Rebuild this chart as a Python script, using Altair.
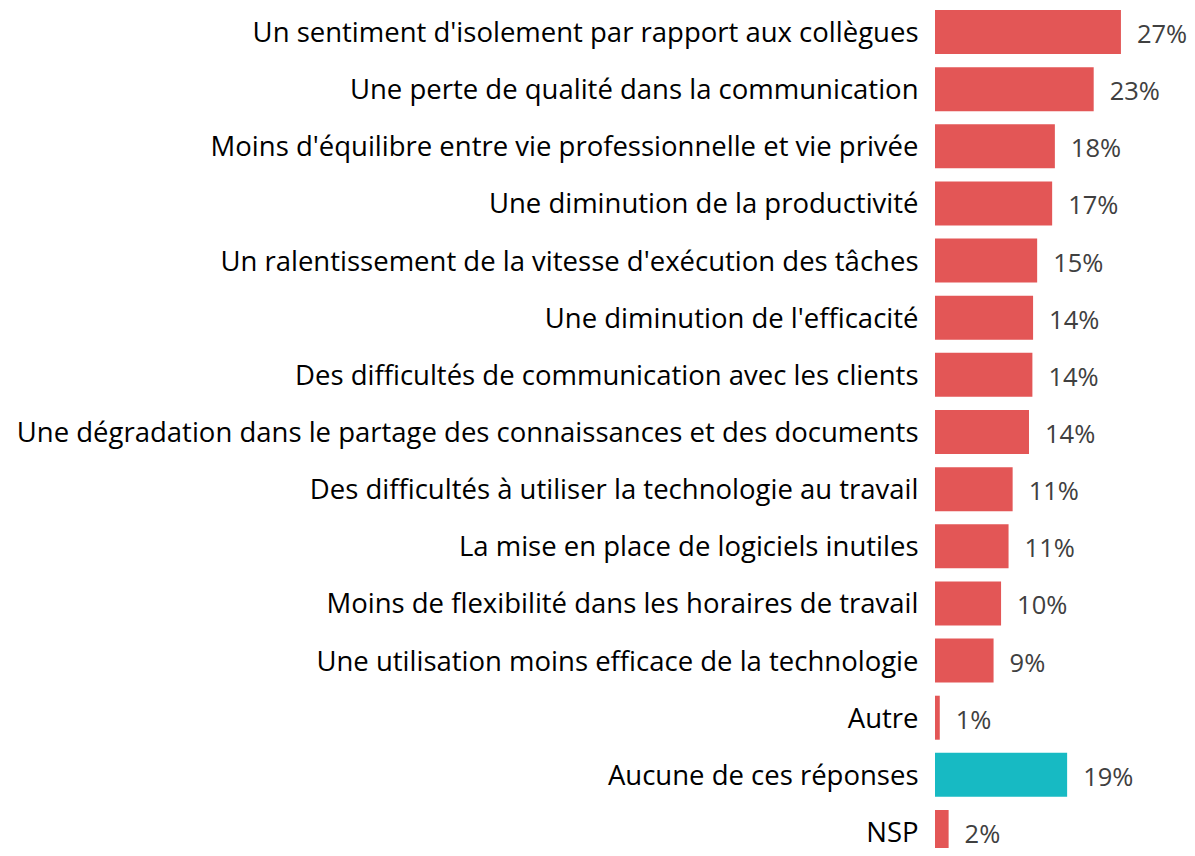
import altair as alt
import pandas as pd

categories = [
    "Un sentiment d'isolement par rapport aux collègues",
    "Une perte de qualité dans la communication",
    "Moins d'équilibre entre vie professionnelle et vie privée",
    "Une diminution de la productivité",
    "Un ralentissement de la vitesse d'exécution des tâches",
    "Une diminution de l'efficacité",
    "Des difficultés de communication avec les clients",
    "Une dégradation dans le partage des connaissances et des documents",
    "Des difficultés à utiliser la technologie au travail",
    "La mise en place de logiciels inutiles",
    "Moins de flexibilité dans les horaires de travail",
    "Une utilisation moins efficace de la technologie",
    "Autre",
    "Aucune de ces réponses",
    "NSP",
]
values = [27.3, 23.3, 17.6, 17.2, 15.0, 14.4, 14.3, 13.8, 11.4, 10.8, 9.7, 8.6, 0.7, 19.4, 2.0]
value_labels = ["27%", "23%", "18%", "17%", "15%", "14%", "14%", "14%", "11%", "11%", "10%", "9%", "1%", "19%", "2%"]
groups = ["main"] * 13 + ["none", "main"]

df = pd.DataFrame({
    "cat": categories,
    "val": values,
    "lab": value_labels,
    "grp": groups,
})

FONT = "Open Sans"
FS = 27.5
VFS = 25.5

y_enc = alt.Y(
    "cat:N",
    sort=categories,
    scale=alt.Scale(range=[2, 846], paddingInner=0.23, paddingOuter=0),
    axis=alt.Axis(
        title=None, ticks=False, domain=False, labelFont=FONT, labelFontSize=FS,
        labelColor="#000000", labelPadding=17, labelLimit=0, grid=False,
        labelOffset=2,
    ),
)
x_enc = alt.X(
    "val:Q",
    scale=alt.Scale(domain=[0, 37], nice=False),
    axis=None,
)

bars = alt.Chart(df).mark_bar().encode(
    y=y_enc,
    x=x_enc,
    color=alt.Color(
        "grp:N",
        scale=alt.Scale(domain=["main", "none"], range=["#E35656", "#17BAC3"]),
        legend=None,
    ),
)

texts = alt.Chart(df).mark_text(
    align="left", baseline="middle", dx=16, dy=3, font=FONT, fontSize=VFS, color="#404040"
).encode(
    y=alt.Y("cat:N", sort=categories),
    x="val:Q",
    text="lab:N",
)

chart = (
    alt.layer(bars, texts)
    .properties(
        width=252,
        height=840,
        padding={"left": 927, "top": 0, "right": 0, "bottom": 0},
        autosize=alt.AutoSizeParams(type="none"),
    )
    .configure_view(stroke=None)
)

chart.save("out.html", embed_options={"renderer": "svg", "actions": False})
